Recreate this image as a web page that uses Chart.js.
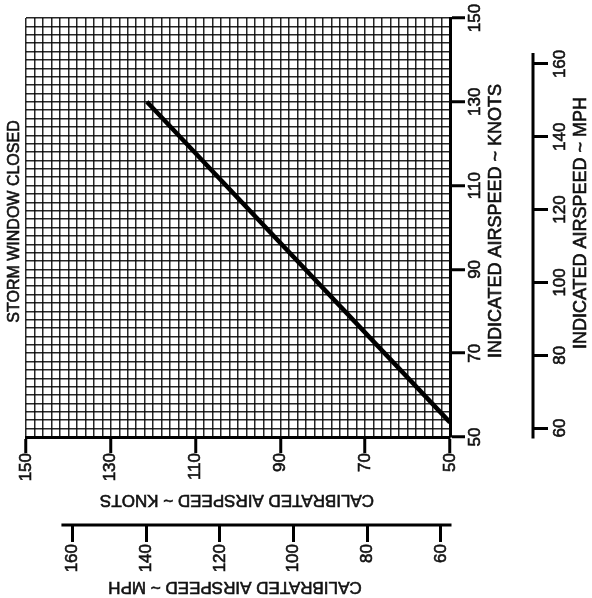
<!DOCTYPE html>
<html>
<head>
<meta charset="utf-8">
<script src="https://cdn.jsdelivr.net/npm/chart.js@4.4.1/dist/chart.umd.min.js"></script>
<style>
  html, body { margin: 0; padding: 0; background: #fff; }
  #chart { display: block; }
</style>
</head>
<body>
<canvas id="chart" width="592" height="598"></canvas>
<script>
// labelled ticks: knots on the inner axes, mph on the outer ones
const calibratedKnotTicks = [150, 130, 110, 90, 70, 50];
const indicatedKnotTicks = [50, 70, 90, 110, 130, 150];
const mphTicks = [60, 80, 100, 120, 140, 160];

// calibration line, storm window closed
const calibratedKnots = [121.5, 50];
const indicatedKnots = [130, 53.5];

const KT_TO_MPH = 1.15078;
const KNOT_MIN = 50;
const KNOT_MAX = 150;
const MPH_AXIS_END = 163;
const FONT = "'Liberation Sans', Arial, Helvetica, sans-serif";
const INK = '#111';

Chart.defaults.font.family = FONT;
Chart.defaults.color = INK;

function knotScale(labelled, position, reverse, tickLength, padding, size) {
  return {
    type: 'linear',
    position,
    reverse,
    weight: 0,
    min: KNOT_MIN,
    max: KNOT_MAX,
    grid: {
      color: 'rgba(0,0,0,0.85)',
      lineWidth: 1.5,
      tickLength,
      tickColor: ctx => (ctx.tick && labelled.includes(ctx.tick.value)) ? '#000' : 'rgba(0,0,0,0)',
      tickWidth: 3
    },
    border: { display: true, color: '#000', width: 3 },
    ticks: {
      stepSize: 2,
      autoSkip: false,
      minRotation: 90,
      maxRotation: 90,
      crossAlign: 'center',
      padding,
      font: { size: 17 },
      color: INK,
      textStrokeColor: INK,
      textStrokeWidth: 0.6,
      callback: v => labelled.includes(v) ? String(v) : ''
    },
    afterFit: s => {
      if (position === 'bottom') s.height = size; else s.width = size;
    }
  };
}

function mphScale(position, reverse, tickLength, padding, size) {
  return {
    type: 'linear',
    position,
    reverse,
    weight: 1,
    bounds: 'data',
    min: KNOT_MIN * KT_TO_MPH,
    max: KNOT_MAX * KT_TO_MPH,
    afterBuildTicks: s => { s.ticks = mphTicks.map(v => ({ value: v })); },
    grid: {
      drawOnChartArea: false,
      tickLength,
      tickColor: '#000',
      tickWidth: 3
    },
    border: { display: false },
    ticks: {
      autoSkip: false,
      minRotation: 90,
      maxRotation: 90,
      crossAlign: 'center',
      padding,
      font: { size: 17 },
      color: INK,
      textStrokeColor: INK,
      textStrokeWidth: 0.6
    },
    afterFit: s => {
      if (position === 'bottom') s.height = size; else s.width = size;
    }
  };
}

function drawText(ctx, text, x, y, angle, size) {
  ctx.save();
  ctx.translate(x, y);
  ctx.rotate(angle);
  ctx.font = `${size}px ${FONT}`;
  ctx.fillStyle = INK;
  ctx.strokeStyle = INK;
  ctx.lineWidth = 0.6;
  ctx.textAlign = 'center';
  ctx.textBaseline = 'middle';
  ctx.strokeText(text, 0, 0);
  ctx.fillText(text, 0, 0);
  ctx.restore();
}

const extras = {
  id: 'extras',
  afterDraw(chart) {
    const { ctx, scales: { x, y, x2, y2 } } = chart;
    ctx.save();
    ctx.strokeStyle = '#000';
    ctx.lineWidth = 3;
    ctx.beginPath();
    ctx.moveTo(y2.left, y2.getPixelForValue(MPH_AXIS_END));
    ctx.lineTo(y2.left, y2.getPixelForValue(y2.min) + 1.5);
    ctx.moveTo(x2.getPixelForValue(MPH_AXIS_END), x2.top);
    ctx.lineTo(x2.getPixelForValue(x2.min) + 1.5, x2.top);
    ctx.stroke();
    ctx.restore();

    drawText(ctx, 'INDICATED AIRSPEED ~ KNOTS', y.left + 46, 221, -Math.PI / 2, 18);
    drawText(ctx, 'INDICATED AIRSPEED ~ MPH', y2.left + 48, 223, -Math.PI / 2, 18);
    drawText(ctx, 'CALIBRATED AIRSPEED ~ KNOTS', 237, x.top + 63, Math.PI, 17);
    drawText(ctx, 'CALIBRATED AIRSPEED ~ MPH', 235, x2.top + 62, Math.PI, 17);
    drawText(ctx, 'STORM WINDOW CLOSED', 14.5, 221.5, -Math.PI / 2, 16);
  }
};

new Chart(document.getElementById('chart'), {
  type: 'scatter',
  data: {
    datasets: [{
      label: 'Storm window closed',
      data: calibratedKnots.map((c, i) => ({ x: c, y: indicatedKnots[i] })),
      showLine: true,
      borderColor: '#000',
      borderWidth: 4.5,
      pointRadius: 0,
      xAxisID: 'x',
      yAxisID: 'y'
    }]
  },
  options: {
    responsive: false,
    animation: false,
    layout: { padding: { left: 26, top: 18, right: 0, bottom: 0 } },
    plugins: { legend: { display: false }, tooltip: { enabled: false } },
    scales: {
      x: knotScale(calibratedKnotTicks, 'bottom', true, 16, 0, 88),
      y: knotScale(indicatedKnotTicks, 'right', false, 15, -4, 83),
      x2: mphScale('bottom', true, 17, 2, 73),
      y2: mphScale('right', false, 15, -2, 59)
    }
  },
  plugins: [extras]
});
</script>
</body>
</html>
